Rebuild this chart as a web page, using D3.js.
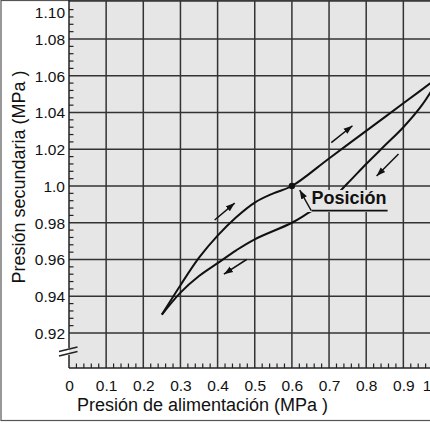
<!DOCTYPE html>
<html>
<head>
<meta charset="utf-8">
<script src="https://cdn.jsdelivr.net/npm/d3@7"></script>
<style>
  html, body { margin: 0; padding: 0; background: #fff; }
  svg { display: block; font-family: "Liberation Sans", Arial, sans-serif; }
</style>
</head>
<body>
<svg id="chart" width="430" height="423"></svg>
<script>
// ---- data ----
const xTickValues = [0, 0.1, 0.2, 0.3, 0.4, 0.5, 0.6, 0.7, 0.8, 0.9, 1.0];
const xTickLabels = ["0", "0.1", "0.2", "0.3", "0.4", "0.5", "0.6", "0.7", "0.8", "0.9", "1"];
const yTickValues = [0.92, 0.94, 0.96, 0.98, 1.0, 1.02, 1.04, 1.06, 1.08, 1.10];
const yTickLabels = ["0.92", "0.94", "0.96", "0.98", "1.0", "1.02", "1.04", "1.06", "1.08", "1.10"];

// increasing supply pressure branch
const supplyUp = [0.25, 0.30, 0.35, 0.40, 0.45, 0.50, 0.55, 0.60, 0.70, 0.80, 0.90, 1.00];
const secondaryUp = [0.930, 0.946, 0.961, 0.973, 0.983, 0.991, 0.996, 1.000, 1.015, 1.030, 1.045, 1.060];

// decreasing supply pressure branch
const supplyDown = [1.00, 0.95, 0.90, 0.85, 0.80, 0.75, 0.70, 0.65, 0.60, 0.50, 0.45, 0.40, 0.35, 0.30, 0.25];
const secondaryDown = [1.060, 1.044, 1.032, 1.022, 1.012, 1.0015, 0.9915, 0.986, 0.980, 0.971, 0.965, 0.958, 0.951, 0.942, 0.930];

// direction arrows [x1, y1, x2, y2] in data units (head at x2,y2)
const arrowsX1 = [0.392, 0.478, 0.706, 0.887];
const arrowsY1 = [0.9815, 0.960, 1.0236, 1.0174];
const arrowsX2 = [0.446, 0.417, 0.763, 0.828];
const arrowsY2 = [0.9907, 0.952, 1.0328, 1.0054];

const setPoint = [0.6, 1.0];
const labelText = "Posición";
const labelPos = [0.653, 0.9902];
const leaderFrom = [0.652, 0.9866];
const leaderTo = [0.621, 0.9978];

const xTitle = "Presión de alimentación (MPa )";
const yTitle = "Presión secundaria (MPa )";

// ---- layout ----
const W = 430, H = 423;
const plotLeft = 69, plotRight = 440.5, plotTop = 1, axisY = 368;
const svg = d3.select("#chart");

const x = d3.scaleLinear().domain([0, 1]).range([plotLeft, plotRight]);
const y = d3.scaleLinear().domain([0.92, 1.10]).range([333, 2.25]);

const gridColor = "#333";
const bg = "#e6e6e6";

// outer frame
svg.append("rect").attr("x", 1).attr("y", 0.5).attr("width", W + 5).attr("height", 420)
  .attr("fill", "#fff").attr("stroke", "#555").attr("stroke-width", 1.2);

// plot background
svg.append("rect").attr("x", plotLeft).attr("y", plotTop)
  .attr("width", plotRight - plotLeft + 5).attr("height", axisY - plotTop)
  .attr("fill", bg);

// grid lines
const gx = svg.append("g");
gx.selectAll("line.v").data(xTickValues.filter(v => v > 0)).join("line")
  .attr("x1", d => x(d)).attr("x2", d => x(d))
  .attr("y1", plotTop).attr("y2", axisY)
  .attr("stroke", gridColor).attr("stroke-width", 1.5);
gx.selectAll("line.h").data(yTickValues.slice(0, -1)).join("line")
  .attr("x1", plotLeft).attr("x2", W + 5)
  .attr("y1", d => y(d)).attr("y2", d => y(d))
  .attr("stroke", gridColor).attr("stroke-width", 1.5);

// top border of plot
svg.append("line").attr("x1", plotLeft).attr("x2", W + 5).attr("y1", 1).attr("y2", 1)
  .attr("stroke", "#333").attr("stroke-width", 1.5);

// curves
const line = d3.line().x(d => x(d[0])).y(d => y(d[1])).curve(d3.curveCatmullRom.alpha(0.5));
const upPts = supplyUp.map((v, i) => [v, secondaryUp[i]]);
const downPts = supplyDown.map((v, i) => [v, secondaryDown[i]]);
svg.append("path").attr("d", line(upPts)).attr("fill", "none").attr("stroke", "#111").attr("stroke-width", 2);
svg.append("path").attr("d", line(downPts)).attr("fill", "none").attr("stroke", "#111").attr("stroke-width", 2);

// arrow marker
const defs = svg.append("defs");
defs.append("marker").attr("id", "ah").attr("markerUnits", "userSpaceOnUse")
  .attr("markerWidth", 10).attr("markerHeight", 8).attr("refX", 9).attr("refY", 4)
  .attr("orient", "auto")
  .append("path").attr("d", "M0,0.8 L9,4 L0,7.2 Z").attr("fill", "#111");

// label box, text, underline
const lbl = svg.append("text").attr("x", x(labelPos[0])).attr("y", y(labelPos[1]))
  .attr("font-size", 18).attr("font-weight", "bold").attr("fill", "#111").text(labelText);
const bb = lbl.node().getBBox();
svg.insert("rect", "text").attr("x", bb.x - 5).attr("y", bb.y + 2)
  .attr("width", bb.width + 9).attr("height", bb.height + 2).attr("fill", bg);
svg.append("line").attr("x1", bb.x).attr("x2", bb.x + bb.width + 1)
  .attr("y1", y(leaderFrom[1])).attr("y2", y(leaderFrom[1]))
  .attr("stroke", "#111").attr("stroke-width", 1.6);
svg.append("line").attr("x1", x(leaderFrom[0])).attr("y1", y(leaderFrom[1]))
  .attr("x2", x(leaderTo[0])).attr("y2", y(leaderTo[1]))
  .attr("stroke", "#111").attr("stroke-width", 1.4).attr("marker-end", "url(#ah)");

// direction arrows
svg.append("g").selectAll("line").data(arrowsX1.map((v, i) => i)).join("line")
  .attr("x1", i => x(arrowsX1[i])).attr("y1", i => y(arrowsY1[i]))
  .attr("x2", i => x(arrowsX2[i])).attr("y2", i => y(arrowsY2[i]))
  .attr("stroke", "#111").attr("stroke-width", 1.5).attr("marker-end", "url(#ah)");

// set point dot
svg.append("circle").attr("cx", x(setPoint[0])).attr("cy", y(setPoint[1])).attr("r", 3.2).attr("fill", "#111");

// ---- axes ----
const axisColor = "#222";
// left axis with break
svg.append("line").attr("x1", plotLeft).attr("x2", plotLeft).attr("y1", 0).attr("y2", 348)
  .attr("stroke", axisColor).attr("stroke-width", 1.5);
svg.append("line").attr("x1", plotLeft).attr("x2", plotLeft).attr("y1", 355).attr("y2", axisY)
  .attr("stroke", axisColor).attr("stroke-width", 1.5);
[0, 4.5].forEach(o => {
  svg.append("line").attr("x1", 59).attr("y1", 351.5 + o).attr("x2", 77.5).attr("y2", 347 + o)
    .attr("stroke", axisColor).attr("stroke-width", 1.5);
});
// bottom axis
svg.append("line").attr("x1", plotLeft).attr("x2", W + 5).attr("y1", axisY).attr("y2", axisY)
  .attr("stroke", axisColor).attr("stroke-width", 1.5);

// minor ticks
const xMinor = d3.range(0, 50).map(i => i * 0.02).filter((v, i) => i % 5 !== 0);
svg.append("g").selectAll("line").data(xMinor).join("line")
  .attr("x1", d => x(d)).attr("x2", d => x(d)).attr("y1", axisY).attr("y2", axisY - 4.5)
  .attr("stroke", axisColor).attr("stroke-width", 1.2);
const yMinor = d3.range(0, 46).map(i => 0.92 + i * 0.004).filter((v, i) => i % 5 !== 0);
svg.append("g").selectAll("line").data(yMinor).join("line")
  .attr("x1", plotLeft).attr("x2", plotLeft + 4.5).attr("y1", d => y(d)).attr("y2", d => y(d))
  .attr("stroke", axisColor).attr("stroke-width", 1.2);

// tick labels via d3 axes (lines hidden)
const xAxis = d3.axisBottom(x).tickValues(xTickValues).tickSize(0).tickPadding(0)
  .tickFormat((d, i) => xTickLabels[i]);
const gxa = svg.append("g").attr("transform", `translate(0,${axisY})`).call(xAxis);
gxa.attr("font-size", null).attr("font-family", null);
gxa.select(".domain").remove();
gxa.selectAll("text").style("font-size", "15.5px").style("font-family", "Liberation Sans, Arial, sans-serif")
  .attr("fill", "#111").attr("y", 23).attr("dy", 0)
  .attr("dx", (d, i) => i === xTickLabels.length - 1 ? -14 : 0);

const yAxis = d3.axisLeft(y).tickValues(yTickValues).tickSize(0).tickPadding(4)
  .tickFormat((d, i) => yTickLabels[i]);
const gya = svg.append("g").attr("transform", `translate(${plotLeft},0)`).call(yAxis);
gya.attr("font-size", null).attr("font-family", null);
gya.select(".domain").remove();
gya.selectAll("text").style("font-size", "15.5px").style("font-family", "Liberation Sans, Arial, sans-serif")
  .attr("fill", "#111")
  .attr("dy", (d, i) => i === yTickLabels.length - 1 ? "1.0em" : "0.34em");

// axis titles
svg.append("text").attr("x", 202.5).attr("y", 411).attr("text-anchor", "middle")
  .attr("font-size", 18).attr("fill", "#111").text(xTitle);
svg.append("text").attr("transform", "translate(24.5,177) rotate(-90)").attr("text-anchor", "middle")
  .attr("font-size", 18).attr("fill", "#111").text(yTitle);
</script>
</body>
</html>
